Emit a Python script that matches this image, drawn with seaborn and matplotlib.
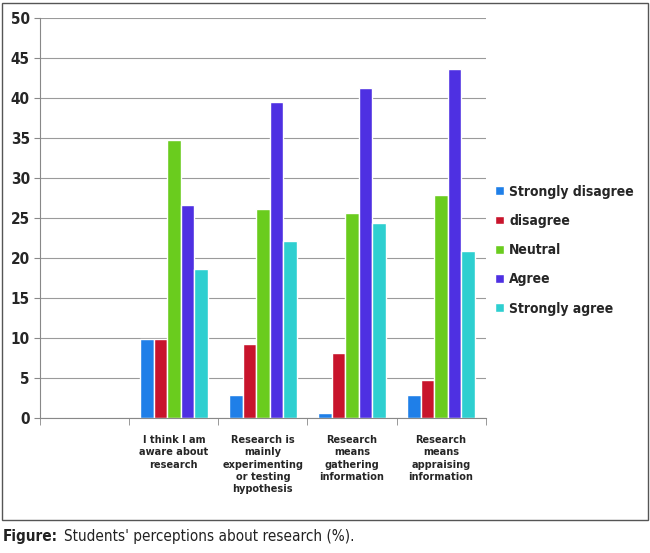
import matplotlib
matplotlib.use("Agg")
import matplotlib.pyplot as plt
import seaborn as sns
import pandas as pd
from matplotlib.patches import Rectangle

categories = ["", "I think I am\naware about\nresearch", "Research is\nmainly\nexperimenting\nor testing\nhypothesis",
              "Research\nmeans\ngathering\ninformation", "Research\nmeans\nappraising\ninformation"]
series = ["Strongly disagree", "disagree", "Neutral", "Agree", "Strongly agree"]
strongly_disagree = [0, 9.9, 2.9, 0.6, 2.9]
disagree = [0, 9.9, 9.3, 8.1, 4.7]
neutral = [0, 34.8, 26.2, 25.6, 27.9]
agree = [0, 26.7, 39.5, 41.3, 43.6]
strongly_agree = [0, 18.6, 22.1, 24.4, 20.9]
colors = ["#1F7FE8", "#C8142C", "#6ACC1E", "#4E30E2", "#2ECFD0"]

rows = []
for s, vals in zip(series, [strongly_disagree, disagree, neutral, agree, strongly_agree]):
    for c, v in zip(categories, vals):
        rows.append({"cat": c, "series": s, "val": v})
df = pd.DataFrame(rows)

sns.set_style("white")
plt.rcParams['font.family'] = ['DejaVu Sans']
plt.rcParams['font.stretch'] = 'condensed'

fig = plt.figure(figsize=(6.5, 5.53), dpi=100)
ax = fig.add_axes([0.062, 0.244, 0.685, 0.723])
sns.barplot(data=df, x="cat", y="val", hue="series", palette=colors, order=categories,
            hue_order=series, width=0.76, ax=ax, saturation=1, legend=True)
ax.set_xlim(-0.5, 4.5)
ax.set_ylim(0, 50)
ax.set_yticks(range(0, 51, 5))
ax.yaxis.grid(True, color="#9a9a9a", lw=0.8)
ax.set_axisbelow(True)
for s in ["top", "right"]:
    ax.spines[s].set_visible(False)
ax.spines["left"].set_color("#888")
ax.spines["bottom"].set_color("#888")
ax.set_xlabel(""); ax.set_ylabel("")
ax.tick_params(axis="y", labelsize=11, length=4, color="#888", left=True)
for t in ax.get_yticklabels():
    t.set_fontweight("bold")
ax.set_xticks(range(5))
ax.set_xticklabels(categories, fontsize=7.8, fontweight="bold", va="top", linespacing=1.3)
ax.tick_params(axis="x", length=0, pad=12)
ax.set_xticks([i + 0.5 for i in range(-1, 5)], minor=True)
ax.tick_params(axis="x", which="minor", length=5, color="#888", bottom=True)
ax.legend(loc="center left", bbox_to_anchor=(1.0, 0.42), frameon=False,
          prop={"size": 10, "weight": "bold"}, handlelength=0.6, handleheight=0.6,
          labelspacing=1.1, handletextpad=0.4, borderaxespad=0.3)

fig.patches.append(Rectangle((0.003, 0.06), 0.994, 0.935, transform=fig.transFigure,
                             fill=False, ec="#555", lw=1))
fig.text(0.005, 0.022, "Figure:", fontsize=11, fontweight="bold", color="#222")
fig.text(0.098, 0.022, "Students' perceptions about research (%).", fontsize=11, color="#222")
fig.savefig("out.png", dpi=100)
